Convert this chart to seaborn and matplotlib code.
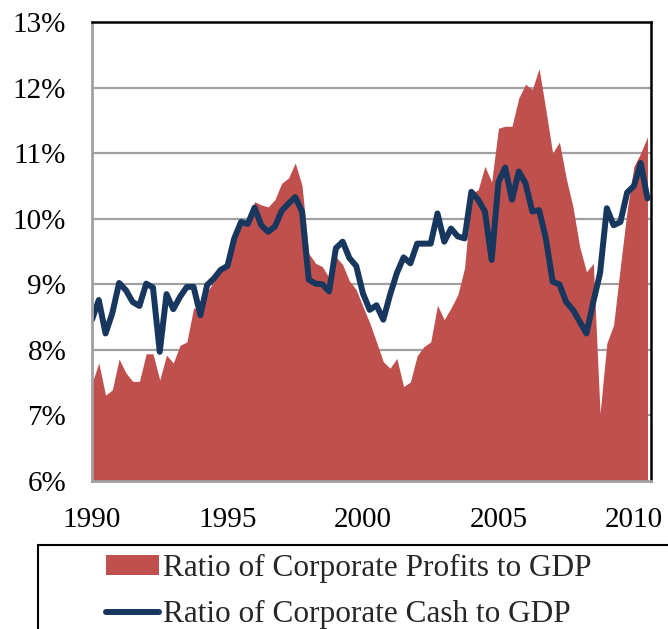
import numpy as np
import pandas as pd
import matplotlib
matplotlib.use("Agg")
import matplotlib.pyplot as plt
from matplotlib.patches import Rectangle
from matplotlib.lines import Line2D
from matplotlib.patches import Patch
import seaborn as sns

# Quarterly data, 1990Q1 .. 2010Q3 (percent of GDP)
start_year = 1990
profits = [7.49, 7.80, 7.31, 7.39, 7.86, 7.65, 7.52, 7.52, 7.94, 7.94,
           7.54, 7.92, 7.80, 8.07, 8.12, 8.64, 8.60, 8.88, 9.05, 9.20,
           9.30, 9.62, 9.95, 9.92, 10.26, 10.21, 10.18, 10.29, 10.54, 10.62,
           10.85, 10.51, 9.47, 9.32, 9.27, 9.10, 9.42, 9.30, 9.05, 8.92,
           8.66, 8.41, 8.12, 7.82, 7.72, 7.87, 7.44, 7.51, 7.91, 8.05,
           8.12, 8.68, 8.46, 8.64, 8.84, 9.25, 10.39, 10.44, 10.80, 10.56,
           11.38, 11.41, 11.41, 11.84, 12.05, 11.97, 12.29, 11.66, 11.00, 11.17,
           10.62, 10.18, 9.57, 9.19, 9.32, 7.03, 8.10, 8.38, 9.27, 10.13,
           10.80, 11.00, 11.25]
cash = [8.46, 8.76, 8.25, 8.56, 9.02, 8.91, 8.73, 8.67, 9.01, 8.95,
        7.97, 8.85, 8.62, 8.81, 8.96, 8.96, 8.53, 8.99, 9.09, 9.22,
        9.28, 9.70, 9.95, 9.92, 10.17, 9.90, 9.80, 9.88, 10.12, 10.23,
        10.33, 10.11, 9.07, 9.01, 9.00, 8.89, 9.55, 9.65, 9.40, 9.28,
        8.86, 8.61, 8.68, 8.46, 8.84, 9.17, 9.41, 9.32, 9.62, 9.62,
        9.62, 10.08, 9.65, 9.85, 9.73, 9.70, 10.41, 10.29, 10.11, 9.37,
        10.56, 10.78, 10.29, 10.72, 10.54, 10.11, 10.13, 9.70, 9.04, 9.00,
        8.73, 8.61, 8.43, 8.25, 8.73, 9.17, 10.16, 9.90, 9.95, 10.40,
        10.50, 10.85, 10.31]
year_labels = [1990, 1995, 2000, 2005, 2010]
y_ticks = [6, 7, 8, 9, 10, 11, 12, 13]
profit_label = "Ratio of Corporate Profits to GDP"
cash_label = "Ratio of Corporate Cash to GDP"

t = start_year + np.arange(len(cash)) / 4.0
df = pd.DataFrame({"t": t, "profits": profits, "cash": cash})

sns.set_style("white")
plt.rcParams["font.family"] = ["Liberation Serif", "DejaVu Serif"]

RED = "#C0504D"
BLUE = "#17375E"
GRID = "#A0A0A0"

fig = plt.figure(figsize=(6.68, 6.29), dpi=100)
ax = fig.add_axes([92/668, 1 - 481/629, (651-92)/668, (481-22)/629])

ax.fill_between(df["t"], df["profits"], 6, color=RED, lw=0, zorder=2)
sns.lineplot(data=df, x="t", y="cash", ax=ax, color=BLUE, lw=4.3, zorder=3)

ax.set_xlim(1990, 2010.63)
ax.set_ylim(6, 13)
ax.set_yticks(y_ticks)
ax.set_yticklabels([f"{v}%" for v in y_ticks])
ax.set_xticks(np.arange(1990, 2011, 1))
ax.set_xticklabels([str(y) if y in year_labels else "" for y in range(1990, 2011)])
ax.set_xlabel("")
ax.set_ylabel("")

for v in y_ticks[1:-1]:
    ax.axhline(v, color=GRID, lw=1.6, zorder=1)

ax.tick_params(axis="both", which="both", direction="out", width=1.5,
               color=GRID, labelsize=21, labelcolor="black")
ax.tick_params(axis="x", length=5, pad=14)
ax.tick_params(axis="y", length=7.5, pad=11)

for s in ["left", "bottom"]:
    ax.spines[s].set_color(GRID)
    ax.spines[s].set_linewidth(2)
for s in ["top", "right"]:
    ax.spines[s].set_color("black")
    ax.spines[s].set_linewidth(1.8)
for s in ax.spines.values():
    s.set_zorder(4)

# legend box (extends past the figure edge as in the reference)
fig.patches.append(Rectangle((38/668, -0.05), 0.98, (629-545)/629 + 0.05,
                             transform=fig.transFigure, fill=False,
                             edgecolor="black", lw=1.5))
handles = [Patch(facecolor=RED, edgecolor="none", label=profit_label),
           Line2D([0], [0], color=BLUE, lw=4.3, label=cash_label)]
fig.legend(handles=handles, loc="upper left", bbox_to_anchor=(106/668, 1 - 554/629),
           frameon=False, fontsize=22.5, handlelength=1.7, handleheight=0.6,
           handletextpad=0.12, labelspacing=0.55, borderpad=0, borderaxespad=0)

fig.savefig("out.png", dpi=100)
